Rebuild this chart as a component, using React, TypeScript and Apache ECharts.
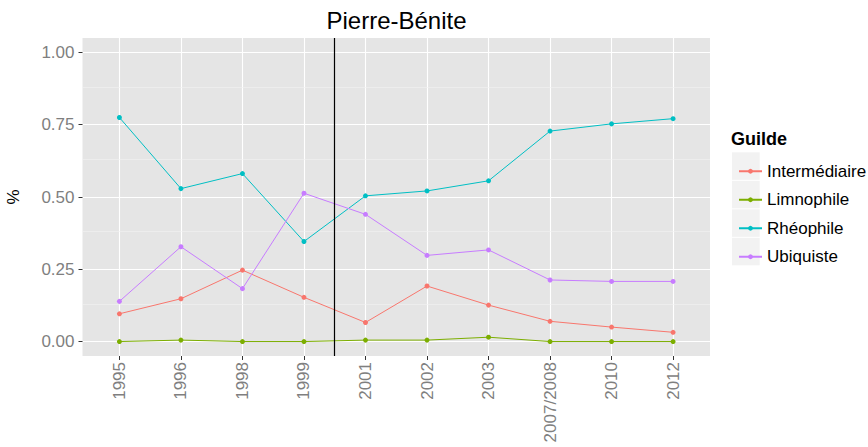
import React, { useEffect, useRef } from "react";
import * as echarts from "echarts";

const categories = ["1995", "1996", "1998", "1999", "2001", "2002", "2003", "2007/2008", "2010", "2012"];
const seriesNames = ["Intermédiaire", "Limnophile", "Rhéophile", "Ubiquiste"];
const intermediaire = [0.096, 0.148, 0.247, 0.153, 0.066, 0.192, 0.126, 0.07, 0.05, 0.032];
const limnophile = [0, 0.005, 0, 0, 0.005, 0.005, 0.015, 0, 0, 0];
const rheophile = [0.775, 0.529, 0.581, 0.346, 0.504, 0.521, 0.556, 0.728, 0.753, 0.771];
const ubiquiste = [0.139, 0.328, 0.183, 0.513, 0.44, 0.298, 0.317, 0.213, 0.208, 0.208];
const yTicks = [0, 0.25, 0.5, 0.75, 1];
const yMinor = [0.125, 0.375, 0.625, 0.875];
const vlineAt = 3.5; // between 1999 and 2001
const titleText = "Pierre-Bénite";
const legendTitle = "Guilde";
const yName = "%";

const colors = ["#F8766D", "#7CAE00", "#00BFC4", "#C77CFF"];
const FONT = "'Liberation Sans', Arial, sans-serif";

export default function App() {
  const ref = useRef<HTMLDivElement>(null);
  useEffect(() => {
    if (!ref.current) return;
    const chart = echarts.init(ref.current, undefined, { renderer: "svg" });
    const values = [intermediaire, limnophile, rheophile, ubiquiste];
    const xIdx = categories.map((_, i) => i);

    const series: any[] = values.map((vals, si) => ({
      type: "line",
      name: seriesNames[si],
      data: vals.map((v, i) => [i, v]),
      symbol: "circle",
      symbolSize: 5,
      showSymbol: true,
      lineStyle: { width: 1, color: colors[si] },
      itemStyle: { color: colors[si] },
      z: 2 + si,
    }));
    series.push({
      type: "line",
      name: "__grid",
      data: [],
      silent: true,
      z: 1,
      markLine: {
        silent: true,
        symbol: "none",
        z: 1,
        label: { show: false },
        lineStyle: { color: "#F2F2F2", width: 0.6, type: "solid" },
        data: yMinor.map((v) => ({ yAxis: v })),
      },
    });
    series.push({
      type: "line",
      name: "__vline",
      data: [],
      silent: true,
      z: 10,
      markLine: {
        silent: true,
        symbol: "none",
        z: 10,
        label: { show: false },
        lineStyle: { color: "#000000", width: 1.2, type: "solid" },
        data: [{ xAxis: vlineAt }],
      },
    });

    const keyRects = seriesNames.map((_, i) => ({
      type: "rect",
      shape: { x: 732, y: 152.3 + i * 28.5, width: 27.7, height: 27.5 },
      style: { fill: "#F2F2F2" },
      z: 0,
      silent: true,
    }));

    chart.setOption({
      animation: false,
      color: colors,
      textStyle: { fontFamily: FONT },
      grid: {
        left: 82.5,
        right: 158,
        top: 38,
        bottom: 91,
        containLabel: false,
        outerBoundsMode: "none",
        show: true,
        backgroundColor: "#E5E5E5",
        borderWidth: 0,
      },
      xAxis: {
        type: "value",
        position: "bottom",
        min: -0.6,
        max: categories.length - 1 + 0.6,
        axisLine: { show: false, onZero: false },
        axisTick: {
          show: true,
          customValues: xIdx,
          length: 4,
          lineStyle: { color: "#333333", width: 1 },
        },
        axisLabel: {
          show: true,
          customValues: xIdx,
          formatter: (v: number) => categories[Math.round(v)] ?? "",
          rotate: 90,
          margin: 6,
          color: "#7F7F7F",
          fontSize: 17,
          fontFamily: FONT,
          hideOverlap: false,
        },
        splitLine: { show: true, lineStyle: { color: "#FFFFFF", width: 1.1 } },
      },
      yAxis: {
        type: "value",
        position: "left",
        min: -0.05,
        max: 1.05,
        name: yName,
        nameLocation: "middle",
        nameGap: 61,
        nameRotate: 90,
        nameTextStyle: { color: "#000000", fontSize: 17, fontFamily: FONT },
        axisLine: { show: false, onZero: false },
        axisTick: {
          show: true,
          customValues: yTicks,
          length: 4,
          lineStyle: { color: "#333333", width: 1 },
        },
        axisLabel: {
          show: true,
          customValues: yTicks,
          formatter: (v: number) => v.toFixed(2),
          margin: 8,
          color: "#7F7F7F",
          fontSize: 17,
          fontFamily: FONT,
        },
        splitLine: { show: true, lineStyle: { color: "#FFFFFF", width: 1.1 } },
      },
      legend: {
        show: true,
        orient: "vertical",
        left: 733,
        top: 152,
        itemWidth: 23,
        itemHeight: 6,
        itemGap: 0,
        data: seriesNames,
        textStyle: { fontSize: 17, color: "#000000", fontFamily: FONT, lineHeight: 28.5 },
        selectedMode: false,
      },
      graphic: [
        ...keyRects,
        {
          type: "text",
          x: 396.5,
          y: 20,
          style: {
            text: titleText,
            fill: "#000000",
            font: `24px ${FONT}`,
            textAlign: "center",
            textVerticalAlign: "middle",
          },
        },
        {
          type: "text",
          x: 731,
          y: 139,
          style: {
            text: legendTitle,
            fill: "#000000",
            font: `bold 18px ${FONT}`,
            textAlign: "left",
            textVerticalAlign: "middle",
          },
        },
      ],
      series,
    });
    return () => chart.dispose();
  }, []);
  return <div ref={ref} style={{ width: 868, height: 447, position: "absolute", left: 0, top: 0, background: "#FFFFFF" }} />;
}
